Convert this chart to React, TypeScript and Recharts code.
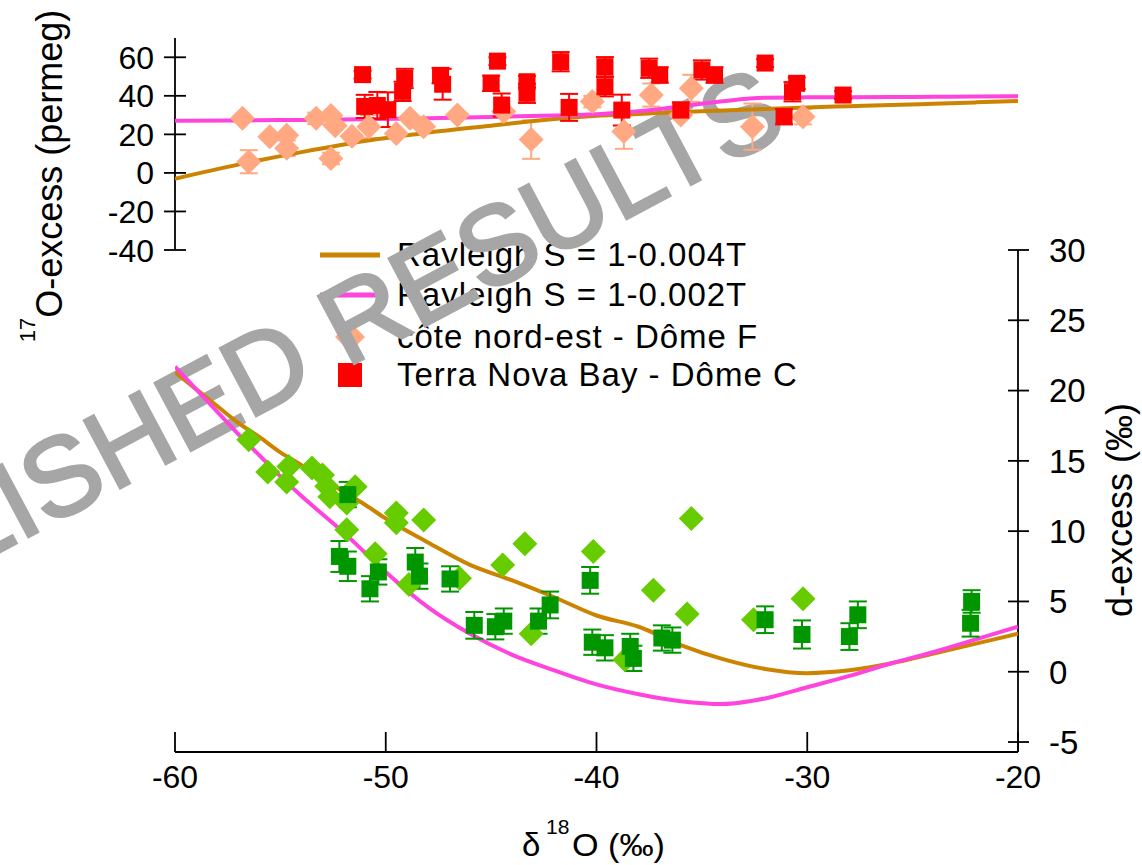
import React from 'react';
import { ComposedChart, Line, Scatter, XAxis, YAxis, ErrorBar, ReferenceLine } from 'recharts';

const FONT = '"Liberation Sans", Arial, Helvetica, sans-serif';

const BROWN = '#cc8400';
const PINK = '#ff44dd';
const PEACH = '#ffa882';
const RED = '#ff0000';
const LIGHT_GREEN = '#66cc00';
const DARK_GREEN = '#009600';

// Rayleigh model, 17O-excess panel (permeg)
const topCurveX = [-60, -57, -54, -51, -48, -45, -42, -40, -38, -36, -34, -32, -30, -28, -26, -24, -22, -20];
const rayleigh4Top = [-3, 4.3, 10.8, 16.6, 20.9, 24.5, 28, 29.6, 30.6, 31.6, 32.4, 33.2, 34, 34.6, 35.2, 35.9, 36.6, 37.3];
const rayleigh2Top = [27, 27.2, 27.5, 27.8, 28.3, 29, 29.8, 30.5, 32, 34.5, 37.2, 39, 39.2, 39.3, 39.4, 39.5, 39.6, 39.8];

// Rayleigh model, d-excess panel (‰)
const botCurveX = [-60, -59, -58, -57, -56, -55, -54, -53, -52, -51, -50, -48, -46, -44, -42, -40, -38, -36, -34, -32, -30, -28, -26, -24, -22, -20];
const rayleigh4Bot = [21.3, 20.1, 18.9, 17.7, 16.7, 15.6, 14.7, 13.7, 12.8, 11.9, 10.9, 9.2, 7.6, 6.5, 5.3, 4.0, 3.2, 1.9, 0.9, 0.2, -0.1, 0.1, 0.6, 1.3, 2.0, 2.7];
const rayleigh2Bot = [21.7, 20.1, 18.5, 16.9, 15.4, 13.9, 12.5, 11.2, 9.9, 8.5, 7.1, 4.6, 2.7, 1.2, 0.1, -0.9, -1.6, -2.1, -2.3, -1.9, -1.1, -0.3, 0.6, 1.4, 2.3, 3.2];

// [δ18O, 17O-excess, error]
const domeFTop = [
  [-56.8, 28.3, 0], [-56.5, 5.8, 6], [-55.5, 18.8, 0], [-54.7, 19.5, 0], [-54.7, 12.8, 4],
  [-53.3, 28.3, 3], [-52.6, 29.8, 0], [-52.4, 24.5, 0], [-51.6, 19, 0], [-52.6, 7.5, 3],
  [-50.8, 24, 6], [-49.5, 20.5, 0], [-48.85, 28.3, 0], [-48.2, 24, 0], [-46.6, 30, 0],
  [-44.4, 31.8, 0], [-43.1, 17.3, 10], [-40.2, 37, 3], [-38.7, 21.5, 9], [-37.4, 40.4, 6],
  [-36, 30, 0], [-35.5, 43.9, 7], [-32.6, 24, 12], [-30.2, 29.2, 4],
];
const domeCTop = [
  [-51.1, 51, 2], [-51.0, 34.5, 6], [-50.4, 35, 7], [-49.9, 32.8, 9], [-49.1, 49, 5],
  [-49.2, 42.3, 5], [-47.4, 50.5, 4], [-47.3, 46, 8], [-44.7, 58, 2], [-45, 46.5, 4],
  [-44.5, 35.2, 6], [-43.3, 47.3, 3], [-43.3, 41.3, 5], [-41.7, 57.7, 5], [-41.3, 34, 7],
  [-39.6, 55.1, 5], [-39.6, 44.7, 5], [-38.8, 32.6, 8], [-37.5, 54.3, 5], [-37, 50.8, 4],
  [-36, 32.6, 4], [-35, 53.4, 5], [-34.4, 50.8, 4], [-32, 57, 2], [-30.5, 46.5, 3],
  [-30.7, 42.1, 5], [-31.1, 29.2, 4], [-28.3, 40.4, 2],
];

// [δ18O, d-excess]
const domeFBot = [
  [-56.5, 16.5], [-55.6, 14.2], [-54.6, 14.6], [-54.7, 13.5], [-53.5, 14.5], [-53, 14],
  [-52.8, 13.2], [-52.65, 12.45], [-51.45, 13.15], [-51.85, 12], [-51.85, 10.1], [-50.5, 8.4],
  [-49.5, 11.3], [-49.5, 10.6], [-48.2, 10.8], [-48.9, 6.2], [-46.5, 6.65], [-44.45, 7.6],
  [-43.4, 9.1], [-43.1, 2.7], [-40.15, 8.55], [-38.65, 0.85], [-37.3, 5.8], [-35.7, 4.1],
  [-35.5, 10.9], [-32.55, 3.7], [-30.2, 5.2],
];
// [δ18O, d-excess, error]
const domeCBot = [
  [-51.8, 12.6, 0.9], [-52.2, 8.2, 1.1], [-51.8, 7.5, 1.05], [-50.35, 7.1, 0.9], [-50.75, 5.9, 0.9],
  [-48.6, 7.8, 1.0], [-48.4, 6.8, 0.9], [-46.95, 6.6, 0.9], [-45.8, 3.3, 0.95], [-44.8, 3.2, 0.9],
  [-44.4, 3.6, 0.9], [-42.75, 3.6, 0.9], [-42.2, 4.75, 0.95], [-40.3, 6.5, 0.95], [-40.2, 2.1, 0.9],
  [-39.6, 1.7, 0.9], [-38.4, 1.8, 0.9], [-38.25, 0.95, 0.9], [-36.9, 2.4, 0.9], [-36.4, 2.25, 0.9],
  [-32, 3.7, 0.95], [-30.25, 2.65, 1.0], [-27.6, 4.05, 0.95], [-28, 2.5, 0.95], [-22.2, 5.0, 0.8],
  [-22.25, 3.45, 0.95],
];

const xTicks = [-60, -50, -40, -30, -20];
const topTicks = [-40, -20, 0, 20, 40, 60];
const botTicks = [-5, 0, 5, 10, 15, 20, 25, 30];

const legendItems = [
  'Rayleigh S = 1-0.004T',
  'Rayleigh S = 1-0.002T',
  'côte nord-est - Dôme F',
  'Terra Nova Bay - Dôme C',
];

const toLine = (xs: number[], ys: number[]) => xs.map((x, i) => ({ x, y: ys[i] }));
const toPts = (rows: number[][]) => rows.map(([x, y, e]) => ({ x, y, e: e ?? 0 }));

const diamond = (fill: string, r: number) => (p: any) => (
  <polygon points={`${p.cx},${p.cy - r} ${p.cx + r},${p.cy} ${p.cx},${p.cy + r} ${p.cx - r},${p.cy}`} fill={fill} />
);
const square = (fill: string, s: number) => (p: any) => (
  <rect x={p.cx - s / 2} y={p.cy - s / 2} width={s} height={s} fill={fill} />
);

const LeftTick = ({ x, y, payload }: any) => (
  <g>
    <line x1={x - 11} x2={x + 11} y1={y} y2={y} stroke="#000" strokeWidth={1.8} />
    <text x={x - 21} y={y} dy="0.36em" textAnchor="end" fontSize={32} fill="#000" fontFamily={FONT}>{payload.value}</text>
  </g>
);

const RightTick = ({ x, y, payload }: any) => (
  <g>
    <line x1={x - 10} x2={x + 11} y1={y} y2={y} stroke="#000" strokeWidth={1.8} />
    <text x={x + 31} y={y} dy="0.36em" textAnchor="start" fontSize={33} fill="#000" fontFamily={FONT}>{payload.value}</text>
  </g>
);

const BottomTick = ({ x, y, payload }: any) => (
  <g>
    <line x1={x} x2={x} y1={y} y2={y - 20} stroke="#000" strokeWidth={1.8} />
    <text x={x} y={y + 36} textAnchor="middle" fontSize={32} fill="#000" fontFamily={FONT}>{payload.value}</text>
  </g>
);

function LegendAndWatermark() {
  const rowY = [255, 295, 337, 375];
  return (
    <svg width={1142} height={865} style={{ position: 'absolute', left: 0, top: 0 }}>
      <line x1={320} x2={380} y1={rowY[0]} y2={rowY[0]} stroke={BROWN} strokeWidth={5} />
      <line x1={320} x2={380} y1={rowY[1]} y2={rowY[1]} stroke={PINK} strokeWidth={5} />
      <polygon points={`350,${rowY[2] - 15} 365,${rowY[2]} 350,${rowY[2] + 15} 335,${rowY[2]}`} fill={PEACH} />
      <rect x={338} y={rowY[3] - 12} width={24} height={24} fill={RED} />
      {legendItems.map((t, i) => (
        <text key={t} x={397} y={rowY[i] + 11} fontSize={33} letterSpacing={1} fill="#000" fontFamily={FONT}>{t}</text>
      ))}
      <text x={-378} y={753} transform="rotate(-28 -378 753)" fontSize={111} fill="#a6a6a6" stroke="#a6a6a6" strokeWidth={3} fontFamily={FONT}>
        UNPUBLISHED RESULTS
      </text>
    </svg>
  );
}

export default function App() {
  return (
    <div style={{ position: 'absolute', left: 0, top: 0, width: 1142, height: 865, background: '#fff', fontFamily: FONT }}>
      <LegendAndWatermark />
      <div style={{ position: 'absolute', left: 0, top: 0 }}>
        <ComposedChart width={1142} height={865} margin={{ top: 38, right: 64, bottom: 53, left: 115 }}>
          <XAxis
            type="number"
            dataKey="x"
            domain={[-60, -20]}
            ticks={xTicks}
            interval={0}
            allowDataOverflow
            height={60}
            tickSize={0}
            tickMargin={0}
            tickLine={false}
            axisLine={{ stroke: '#000', strokeWidth: 1.8 }}
            tick={<BottomTick />}
          />
          <YAxis
            yAxisId="top"
            orientation="left"
            type="number"
            dataKey="y"
            domain={[-300.47, 70]}
            ticks={topTicks}
            interval={0}
            allowDataOverflow
            width={60}
            tickSize={0}
            tickMargin={0}
            tickLine={false}
            axisLine={false}
            tick={<LeftTick />}
          />
          <YAxis
            yAxisId="bot"
            orientation="right"
            type="number"
            dataKey="y"
            domain={[-5.71, 45.08]}
            ticks={botTicks}
            interval={0}
            allowDataOverflow
            width={60}
            tickSize={0}
            tickMargin={0}
            tickLine={false}
            axisLine={false}
            tick={<RightTick />}
          />
          <ReferenceLine yAxisId="top" segment={[{ x: -60, y: -40 }, { x: -60, y: 70 }]} stroke="#000" strokeWidth={1.8} />
          <ReferenceLine yAxisId="bot" segment={[{ x: -20, y: -5.71 }, { x: -20, y: 30 }]} stroke="#000" strokeWidth={1.8} />

          <Scatter yAxisId="top" data={toPts(domeFTop)} shape={diamond(PEACH, 12.5)} isAnimationActive={false}>
            <ErrorBar dataKey="e" direction="y" width={9} stroke={PEACH} strokeWidth={2} />
          </Scatter>

          <Line yAxisId="top" data={toLine(topCurveX, rayleigh4Top)} dataKey="y" type="monotone" stroke={BROWN} strokeWidth={4} dot={false} activeDot={false} isAnimationActive={false} />
          <Line yAxisId="top" data={toLine(topCurveX, rayleigh2Top)} dataKey="y" type="monotone" stroke={PINK} strokeWidth={4} dot={false} activeDot={false} isAnimationActive={false} />
          <Line yAxisId="bot" data={toLine(botCurveX, rayleigh4Bot)} dataKey="y" type="monotone" stroke={BROWN} strokeWidth={4} dot={false} activeDot={false} isAnimationActive={false} />
          <Line yAxisId="bot" data={toLine(botCurveX, rayleigh2Bot)} dataKey="y" type="monotone" stroke={PINK} strokeWidth={4} dot={false} activeDot={false} isAnimationActive={false} />

          <Scatter yAxisId="top" data={toPts(domeCTop)} shape={square(RED, 17)} isAnimationActive={false}>
            <ErrorBar dataKey="e" direction="y" width={9} stroke={RED} strokeWidth={2} />
          </Scatter>
          <Scatter yAxisId="bot" data={toPts(domeFBot)} shape={diamond(LIGHT_GREEN, 12.5)} isAnimationActive={false} />
          <Scatter yAxisId="bot" data={toPts(domeCBot)} shape={square(DARK_GREEN, 17)} isAnimationActive={false}>
            <ErrorBar dataKey="e" direction="y" width={9} stroke={DARK_GREEN} strokeWidth={2} />
          </Scatter>
        </ComposedChart>
      </div>
      <svg width={1142} height={865} style={{ position: 'absolute', left: 0, top: 0, pointerEvents: 'none' }}>
        <text x={522} y={856} fontSize={33} fill="#000" fontFamily={FONT}>δ</text>
        <text x={546} y={834} fontSize={21} fill="#000" fontFamily={FONT}>18</text>
        <text x={572} y={856} fontSize={31} textLength={93} lengthAdjust="spacingAndGlyphs" fill="#000" fontFamily={FONT}>O (‰)</text>
        <text transform="translate(62,176) rotate(-90)" textAnchor="middle" fontSize={36} fill="#000" fontFamily={FONT}>
          <tspan fontSize={22} dy={-27}>17</tspan><tspan dy={27}>O-excess (permeg)</tspan>
        </text>
        <text transform="translate(1132,510) rotate(-90)" textAnchor="middle" fontSize={36} fill="#000" fontFamily={FONT}>
          d-excess (‰)
        </text>
      </svg>
    </div>
  );
}
